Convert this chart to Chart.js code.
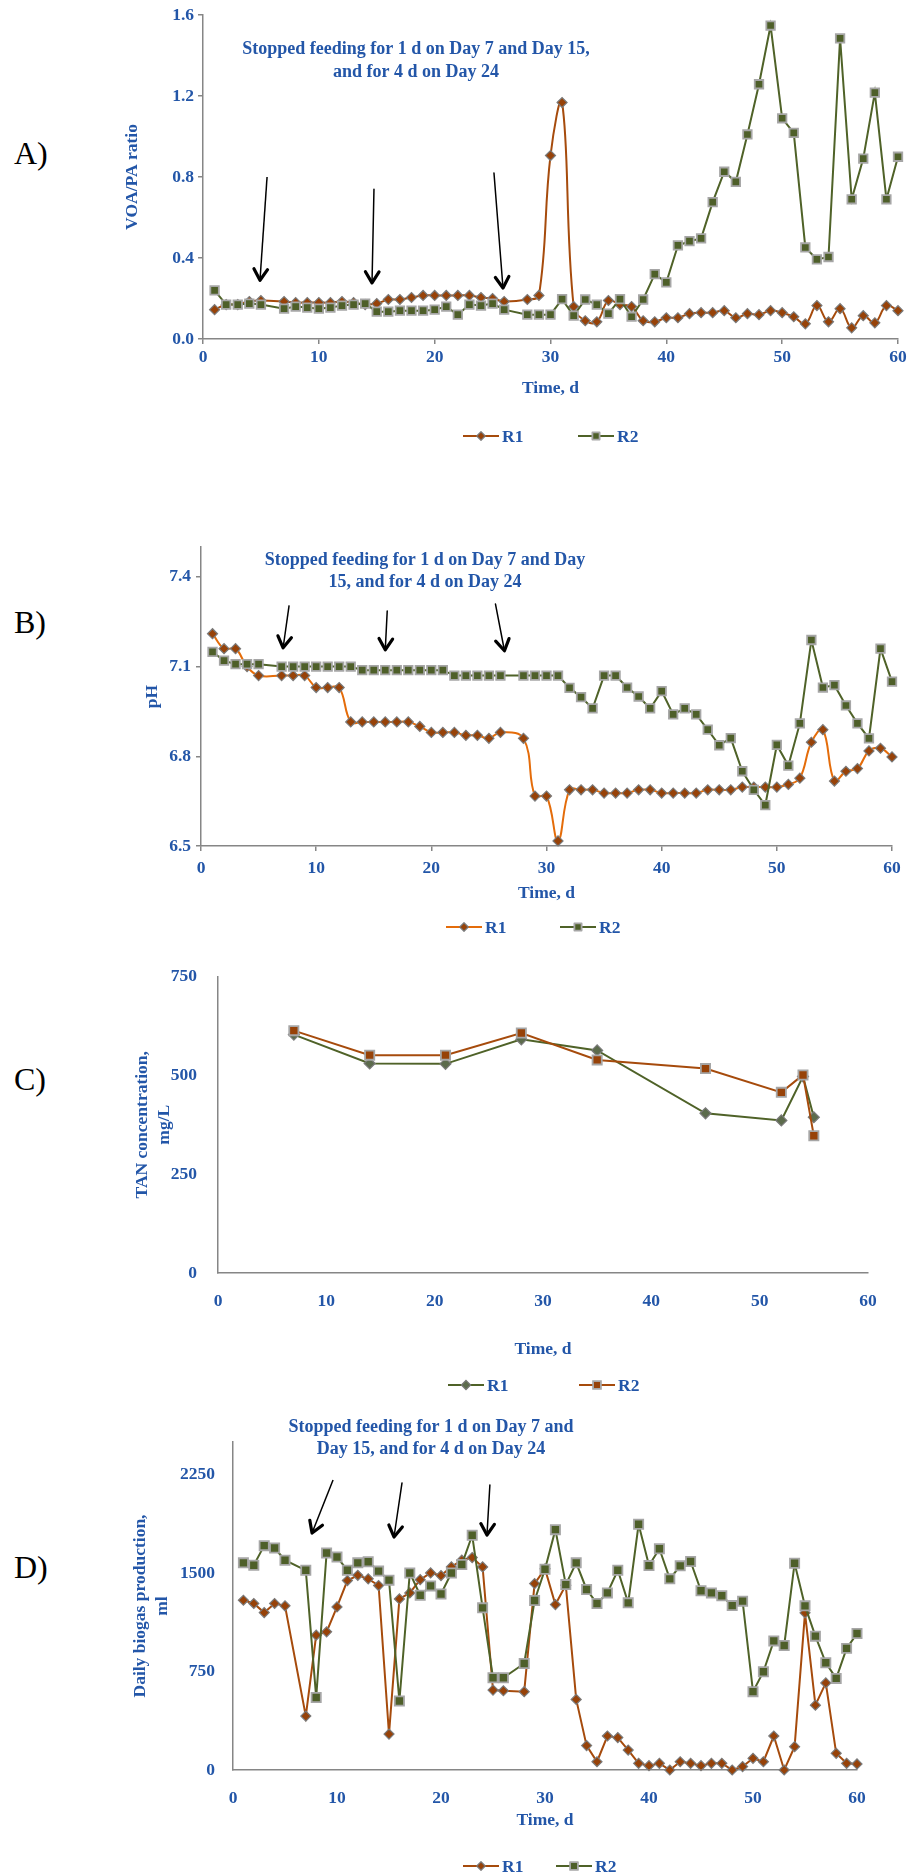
<!DOCTYPE html>
<html>
<head>
<meta charset="utf-8">
<script src="https://cdn.jsdelivr.net/npm/chart.js@4.4.0/dist/chart.umd.min.js"></script>
<style>
  body { margin: 0; background: #fff; }
  #page { position: relative; width: 910px; height: 1874px; overflow: hidden; background: #fff; }
  canvas { position: absolute; left: 0; }
  .tag { position: absolute; left: 14px; font-family: 'Liberation Serif', serif; font-size: 32px; color: #000; line-height: 36px; }
</style>
</head>
<body>
<div id="page">
  <div class="tag" style="top:135px">A)</div>
  <div class="tag" style="top:604px">B)</div>
  <div class="tag" style="top:1061px">C)</div>
  <div class="tag" style="top:1549px">D)</div>
  <canvas id="chartA" width="910" height="460" style="top:0px"></canvas>
  <canvas id="chartB" width="910" height="430" style="top:520px"></canvas>
  <canvas id="chartC" width="910" height="450" style="top:950px"></canvas>
  <canvas id="chartD" width="910" height="474" style="top:1400px"></canvas>
</div>
<script>
// ---- data ----
// days 1..60 (day 6 and day 27 have no sample)
const days = [1,2,3,4,5,6,7,8,9,10,11,12,13,14,15,16,17,18,19,20,
              21,22,23,24,25,26,27,28,29,30,31,32,33,34,35,36,37,38,39,40,
              41,42,43,44,45,46,47,48,49,50,51,52,53,54,55,56,57,58,59,60];

// A) VOA/PA ratio
const voaR1 = [0.145,0.17,0.17,0.185,0.19,null,0.185,0.18,0.18,0.18,
               0.18,0.185,0.18,0.17,0.175,0.195,0.195,0.205,0.215,0.215,
               0.215,0.215,0.215,0.205,0.2,0.185,null,0.195,0.215,0.906,
               1.168,0.16,0.09,0.085,0.19,0.17,0.16,0.09,0.085,0.105,
               0.105,0.125,0.13,0.13,0.14,0.105,0.125,0.12,0.14,0.13,
               0.11,0.075,0.165,0.085,0.15,0.055,0.115,0.08,0.165,0.14];
const voaR2 = [0.24,0.17,0.17,0.175,0.17,null,0.15,0.16,0.155,0.15,
               0.155,0.165,0.17,0.175,0.135,0.135,0.14,0.14,0.14,0.145,
               0.16,0.12,0.17,0.165,0.175,0.145,null,0.12,0.12,0.12,
               0.197,0.115,0.195,0.17,0.125,0.197,0.11,0.195,0.32,0.28,
               0.462,0.483,0.497,0.676,0.826,0.776,1.01,1.258,1.548,1.09,
               1.018,0.452,0.393,0.405,1.485,0.69,0.891,1.217,0.69,0.9];

// B) pH
const phR1 = [7.21,7.16,7.16,7.10,7.07,null,7.07,7.07,7.07,7.03,
              7.03,7.03,6.915,6.915,6.915,6.915,6.915,6.915,6.90,6.88,
              6.88,6.88,6.87,6.87,6.86,6.88,null,6.86,6.667,6.667,
              6.517,6.688,6.688,6.688,6.677,6.677,6.677,6.688,6.688,6.677,
              6.677,6.677,6.677,6.688,6.688,6.688,6.697,6.697,6.697,6.697,
              6.706,6.727,6.847,6.889,6.717,6.75,6.759,6.818,6.827,6.798];
const phR2 = [7.149,7.12,7.108,7.108,7.108,null,7.1,7.1,7.1,7.1,
              7.1,7.1,7.1,7.088,7.088,7.088,7.088,7.088,7.088,7.088,
              7.088,7.07,7.07,7.07,7.07,7.07,null,7.07,7.07,7.07,
              7.07,7.029,6.998,6.96,7.07,7.07,7.03,7.0,6.96,7.018,
              6.94,6.96,6.94,6.889,6.837,6.861,6.75,6.688,6.637,6.838,
              6.769,6.91,7.189,7.03,7.038,6.97,6.91,6.86,7.16,7.05];

// C) TAN concentration, mg/L
const tanDays = [7,14,21,28,35,45,52,54,55];
const tanR1 = [603,530,529,591,563,404,386,497,394];
const tanR2 = [613,551,551,607,539,517,457,501,347];

// D) daily biogas production, ml
const gasR1 = [1294,1269,1200,1269,1251,null,411,1028,1053,1243,
               1444,1484,1457,1406,274,1304,1350,1451,1502,1482,
               1548,1599,1619,1548,609,604,null,597,1421,1533,
               1261,1409,538,186,63,259,247,152,51,33,
               51,0,63,51,33,51,51,0,26,89,
               63,259,0,178,1198,494,664,127,51,46];
const gasR2 = [1579,1561,1710,1692,1599,null,1522,553,1654,1624,
               1522,1579,1587,1516,1447,526,1502,1332,1403,1342,
               1502,1566,1789,1236,703,703,null,812,1292,1530,
               1832,1413,1579,1376,1269,1350,1522,1274,1873,1558,
               1686,1457,1556,1589,1366,1350,1328,1253,1287,597,
               749,984,949,1576,1251,1020,817,698,927,1040];

// axis ticks
const dayTicks = [0,10,20,30,40,50,60];
const voaTicks = [0.0,0.4,0.8,1.2,1.6];
const phTicks = [6.5,6.8,7.1,7.4];
const tanTicks = [0,250,500,750];
const gasTicks = [0,750,1500,2250];

const noteA = ['Stopped feeding for 1 d on Day 7 and Day 15,', 'and for 4 d on Day 24'];
const noteB = ['Stopped feeding for 1 d on Day 7 and Day', '15, and for 4 d on Day 24'];
const noteD = ['Stopped feeding for 1 d on Day 7 and', 'Day 15, and for 4 d on Day 24'];

// ---- styling ----
const BLUE = '#2356A8';
const AXIS = '#868686';
const FONT = 'Liberation Serif';
const BROWN = '#A64B0C';
const BROWN_PT = '#974208';
const ORANGE = '#E46C0A';
const GREEN = '#4F6228';
const GREEN_PT = '#4E5F29';
const GREYGREEN = '#5C6B4C';
const FSIZE = 17.5;

function pts(xs, ys) {
  return xs.map((d, i) => ({ x: d, y: ys[i] }));
}

function markerPath(ctx, style, x, y, r) {
  ctx.beginPath();
  if (style === 'rect') {
    const s = r * Math.SQRT1_2;
    ctx.rect(x - s, y - s, 2 * s, 2 * s);
  } else {
    ctx.moveTo(x, y - r); ctx.lineTo(x + r, y); ctx.lineTo(x, y + r); ctx.lineTo(x - r, y); ctx.closePath();
  }
}

// notes, arrows and legend drawn on top of each panel
const decor = {
  id: 'decor',
  afterDraw(chart, args, o) {
    const ctx = chart.ctx, xs = chart.scales.x, ys = chart.scales.y;
    ctx.save();
    ctx.font = 'bold 18px "' + FONT + '"';
    ctx.fillStyle = BLUE;
    ctx.textAlign = 'center';
    ctx.textBaseline = 'middle';
    (o.note || []).forEach((t, i) => ctx.fillText(t, o.noteX, o.noteY[i]));

    (o.arrows || []).forEach(a => {
      const x0 = xs.getPixelForValue(a[0]), y0 = ys.getPixelForValue(a[1]);
      const x1 = xs.getPixelForValue(a[2]), y1 = ys.getPixelForValue(a[3]);
      ctx.strokeStyle = '#000';
      ctx.lineWidth = 1.5;
      ctx.beginPath(); ctx.moveTo(x0, y0); ctx.lineTo(x1, y1); ctx.stroke();
      const ang = Math.atan2(y1 - y0, x1 - x0);
      ctx.lineWidth = 3.2; ctx.lineCap = 'round'; ctx.lineJoin = 'round';
      ctx.beginPath();
      ctx.moveTo(x1 - 13 * Math.cos(ang - 0.55), y1 - 13 * Math.sin(ang - 0.55));
      ctx.lineTo(x1, y1);
      ctx.lineTo(x1 - 13 * Math.cos(ang + 0.55), y1 - 13 * Math.sin(ang + 0.55));
      ctx.stroke();
    });

    if (o.legend) {
      ctx.font = 'bold ' + FSIZE + 'px "' + FONT + '"';
      o.legend.items.forEach(it => {
        const ds = chart.data.datasets[it.ds];
        const y = o.legend.y;
        ctx.strokeStyle = ds.borderColor; ctx.lineWidth = 2; ctx.lineCap = 'butt';
        ctx.beginPath(); ctx.moveTo(it.x, y); ctx.lineTo(it.x + 36, y); ctx.stroke();
        markerPath(ctx, ds.pointStyle, it.x + 18, y, ds.pointRadius * 0.85);
        ctx.fillStyle = ds.pointBackgroundColor; ctx.fill();
        ctx.lineWidth = ds.pointBorderWidth; ctx.strokeStyle = ds.pointBorderColor; ctx.stroke();
        ctx.fillStyle = BLUE; ctx.textAlign = 'left';
        ctx.fillText(ds.label, it.x + 39, y + 1);
      });
    }
    ctx.restore();
  }
};

function panel(id, c) {
  const tickFont = { family: FONT, size: FSIZE, weight: 'bold' };
  return new Chart(document.getElementById(id), {
    type: 'line',
    data: { datasets: c.datasets },
    options: {
      responsive: false,
      animation: false,
      events: [],
      layout: { padding: c.padding },
      plugins: { legend: { display: false }, tooltip: { enabled: false }, decor: c.decor },
      scales: {
        x: {
          type: 'linear', min: 0, max: 60,
          afterBuildTicks: s => { s.ticks = dayTicks.map(v => ({ value: v })); },
          afterFit: s => { s.height = c.xH; },
          grid: { display: c.tickMarks, drawOnChartArea: false, tickLength: 5, color: AXIS, lineWidth: 1.5 },
          border: { color: AXIS, width: 1.5 },
          ticks: { color: BLUE, font: tickFont, padding: c.xPad, maxRotation: 0 },
          title: { display: true, text: 'Time, d', color: BLUE, font: tickFont, padding: 0 }
        },
        y: {
          min: c.yMin, max: c.yMax,
          afterBuildTicks: s => { s.ticks = c.yTicks.map(v => ({ value: v })); },
          afterFit: s => { s.width = c.yW; },
          grid: { display: c.tickMarks, drawOnChartArea: false, tickLength: 5, color: AXIS, lineWidth: 1.5 },
          border: { color: AXIS, width: 1.5 },
          ticks: { color: BLUE, font: tickFont, padding: c.yPad, callback: v => v.toFixed(c.dec) },
          title: { display: true, text: c.yTitle, color: BLUE, font: { family: FONT, size: FSIZE, weight: 'bold', lineHeight: 1.25 }, padding: 0 }
        }
      }
    },
    plugins: [decor]
  });
}

function r1Style(lineColor, fill, tension) {
  return { label: 'R1', borderColor: lineColor, borderWidth: 2, pointStyle: 'rectRot', pointRadius: 5,
           pointBackgroundColor: fill, pointBorderColor: '#7A7A7A', pointBorderWidth: 1.2,
           tension: tension, spanGaps: true, clip: false, order: 1 };
}
function r2Style(lineColor, fill, radius) {
  return { label: 'R2', borderColor: lineColor, borderWidth: 2, pointStyle: 'rect', pointRadius: radius,
           pointBackgroundColor: fill, pointBorderColor: '#A6A6A6', pointBorderWidth: 1.8,
           tension: 0, spanGaps: true, clip: false, order: 0 };
}

// A) VOA/PA ratio
panel('chartA', {
  datasets: [
    Object.assign({ data: pts(days, voaR1) }, r1Style(BROWN, BROWN_PT, 0.4)),
    Object.assign({ data: pts(days, voaR2) }, r2Style(GREEN, GREEN_PT, 6))
  ],
  padding: { left: 122, right: 12, top: 15, bottom: 61 },
  yW: 81, xH: 60, xPad: 3, yPad: 4, tickMarks: true,
  yMin: 0, yMax: 1.6, yTicks: voaTicks, dec: 1, yTitle: 'VOA/PA ratio',
  decor: {
    note: noteA, noteX: 416, noteY: [49, 72],
    arrows: [[5.53, 0.80, 4.92, 0.29], [14.76, 0.74, 14.59, 0.277], [25.12, 0.82, 25.9, 0.252]],
    legend: { y: 436, items: [{ ds: 0, x: 463 }, { ds: 1, x: 578 }] }
  }
});

// B) pH
panel('chartB', {
  datasets: [
    Object.assign({ data: pts(days, phR1) }, r1Style(ORANGE, BROWN_PT, 0.4)),
    Object.assign({ data: pts(days, phR2) }, r2Style(GREEN, GREEN_PT, 6))
  ],
  padding: { left: 142, right: 18, top: 27, bottom: 46 },
  yW: 59, xH: 58, xPad: 7, yPad: 5, tickMarks: true,
  yMin: 6.5, yMax: 7.5, yTicks: phTicks, dec: 1, yTitle: 'pH',
  decor: {
    note: noteB, noteX: 425, noteY: [40, 62],
    arrows: [[7.65, 7.305, 7.13, 7.163], [16.17, 7.286, 16.0, 7.156], [25.57, 7.309, 26.35, 7.153]],
    legend: { y: 407, items: [{ ds: 0, x: 446 }, { ds: 1, x: 560 }] }
  }
});

// C) TAN concentration
panel('chartC', {
  datasets: [
    Object.assign({ data: pts(tanDays, tanR1) }, r1Style(GREEN, GREYGREEN, 0), { pointRadius: 5.5 }),
    Object.assign({ data: pts(tanDays, tanR2) }, r2Style(BROWN, BROWN_PT, 6.5))
  ],
  padding: { left: 132, right: 42, top: 12, bottom: 40 },
  yW: 86, xH: 87, xPad: 13, yPad: 16, tickMarks: false,
  yMin: 0, yMax: 750, yTicks: tanTicks, dec: 0, yTitle: ['TAN concentration,', 'mg/L'],
  decor: {
    legend: { y: 435, items: [{ ds: 0, x: 448 }, { ds: 1, x: 579 }] }
  }
});

// D) Daily biogas production
panel('chartD', {
  datasets: [
    Object.assign({ data: pts(days, gasR1) }, r1Style(BROWN, BROWN_PT, 0), { pointRadius: 5 }),
    Object.assign({ data: pts(days, gasR2) }, r2Style(GREEN, GREEN_PT, 6.5))
  ],
  padding: { left: 130, right: 53, top: 42, bottom: 43 },
  yW: 103, xH: 61, xPad: 13, yPad: 13, tickMarks: false,
  yMin: 0, yMax: 2500, yTicks: gasTicks, dec: 0, yTitle: ['Daily biogas production,', 'ml'],
  decor: {
    note: noteD, noteX: 431, noteY: [27, 49],
    arrows: [[9.62, 2210, 7.6, 1806], [16.25, 2188, 15.48, 1776], [24.7, 2172, 24.42, 1791]],
    legend: { y: 466, items: [{ ds: 0, x: 463 }, { ds: 1, x: 556 }] }
  }
});
</script>
</body>
</html>
